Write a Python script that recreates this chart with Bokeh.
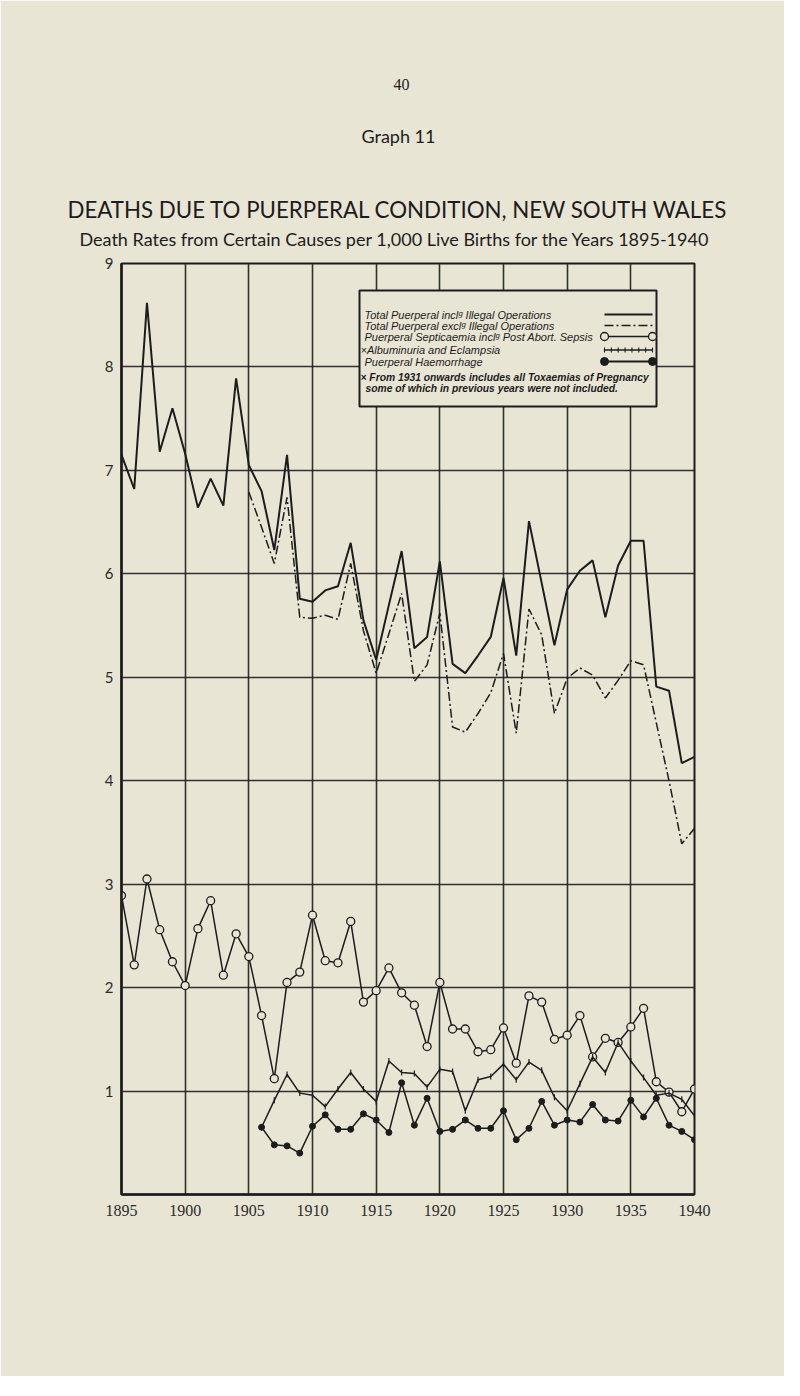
import math
from bokeh.plotting import figure
from bokeh.models import Range1d, Label, FixedTicker, Title
from bokeh.embed import file_html
from bokeh.resources import INLINE

# ---------------- data ----------------
years_total = list(range(1895, 1941))
total_incl = [7.15, 6.82, 8.62, 7.18, 7.60, 7.16, 6.64, 6.92, 6.66, 7.89,
              7.05, 6.80, 6.23, 7.15, 5.76, 5.73, 5.84, 5.88, 6.30, 5.55,
              5.17, 5.70, 6.22, 5.28, 5.39, 6.12, 5.13, 5.04, 5.21, 5.39,
              5.96, 5.21, 6.51, 5.91, 5.31, 5.85, 6.03, 6.13, 5.58, 6.08,
              6.32, 6.32, 4.91, 4.87, 4.17, 4.23]

years_excl = list(range(1905, 1941))
total_excl = [6.79, 6.45, 6.10, 6.74, 5.58, 5.57, 5.60, 5.56, 6.10, 5.45,
              5.04, 5.42, 5.81, 4.96, 5.12, 5.62, 4.52, 4.47, 4.65, 4.85,
              5.23, 4.46, 5.66, 5.41, 4.65, 4.99, 5.09, 5.02, 4.80, 4.97,
              5.16, 5.12, 4.56, 4.00, 3.39, 3.54]

years_sept = list(range(1895, 1941))
septicaemia = [2.89, 2.22, 3.05, 2.56, 2.25, 2.02, 2.57, 2.84, 2.12, 2.52,
               2.30, 1.73, 1.12, 2.05, 2.15, 2.70, 2.26, 2.24, 2.64, 1.86,
               1.97, 2.19, 1.95, 1.83, 1.43, 2.05, 1.60, 1.60, 1.38, 1.40,
               1.61, 1.27, 1.92, 1.86, 1.50, 1.54, 1.73, 1.33, 1.51, 1.47,
               1.62, 1.80, 1.09, 0.99, 0.80, 1.02]

years_alb = list(range(1906, 1941))
albuminuria = [0.65, 0.91, 1.16, 0.98, 0.96, 0.85, 1.02, 1.18, 1.02, 0.90,
               1.29, 1.18, 1.17, 1.04, 1.21, 1.19, 0.81, 1.11, 1.14, 1.26,
               1.11, 1.28, 1.20, 0.94, 0.81, 1.07, 1.33, 1.18, 1.47, 1.29,
               1.13, 0.96, 0.98, 0.92, 0.76]

years_haem = list(range(1906, 1941))
haemorrhage = [0.65, 0.48, 0.47, 0.40, 0.66, 0.77, 0.63, 0.63, 0.78, 0.72,
               0.60, 1.08, 0.67, 0.93, 0.61, 0.63, 0.72, 0.64, 0.64, 0.81,
               0.53, 0.64, 0.90, 0.67, 0.72, 0.70, 0.87, 0.72, 0.71, 0.91,
               0.75, 0.93, 0.67, 0.61, 0.53]

x_ticks = list(range(1895, 1941, 5))
y_ticks = list(range(1, 10))

legend_labels = [
    "Total Puerperal incl\u1d4d Illegal Operations",
    "Total Puerperal excl\u1d4d Illegal Operations",
    "Puerperal Septicaemia incl\u1d4d Post Abort. Sepsis",
    "\u00d7Albuminuria and Eclampsia",
    "Puerperal Haemorrhage",
]
footnote = ["\u00d7 From 1931 onwards includes all Toxaemias of Pregnancy",
            "some of which in previous years were not included."]

# ---------------- layout ----------------
PAPER = "#e9e5d5"
INK = "#1c1c1c"
FL, FR, FT, FB = 129, 702, 271, 1202   # frame edges on the page (px)


def dx(px):
    return 1895 + (px - FL) * 45.0 / (FR - FL)


def dy(py):
    return 9 - (py - FT) * 9.0 / (FB - FT)


W, H = 784, 1376
p = figure(width=W, height=H, output_backend="svg", toolbar_location=None,
           x_range=Range1d(1895, 1940), y_range=Range1d(0, 9),
           min_border_left=FL - 8, min_border_right=W - (FR - 8),
           min_border_top=FT - 8, min_border_bottom=H - (FB - 8))
p.background_fill_color = PAPER
p.border_fill_color = PAPER
p.outline_line_color = INK
p.outline_line_width = 2

for ax in (p.xaxis, p.yaxis):
    ax.axis_line_color = INK
    ax.axis_line_width = 2.5
    ax.major_tick_line_color = None
    ax.minor_tick_line_color = None
    ax.major_label_text_color = "#2a2a2a"
p.xaxis.ticker = FixedTicker(ticks=x_ticks)
p.yaxis.ticker = FixedTicker(ticks=y_ticks)
p.xaxis.major_label_text_font = "Liberation Serif"
p.xaxis.major_label_text_font_size = "16px"
p.xaxis.major_label_standoff = 4
p.yaxis.major_label_text_font = "Lato"
p.yaxis.major_label_text_font_size = "15px"
p.yaxis.major_label_standoff = 2

for g in (p.xgrid, p.ygrid):
    g.grid_line_color = INK
    g.grid_line_width = 1.6
    g.grid_line_alpha = 0.9

# legend box (covers the grid)
p.quad(left=[dx(367)], right=[dx(664)], top=[dy(298)], bottom=[dy(414)],
       fill_color=PAPER, line_color=INK, line_width=2)

# ---------------- series ----------------
p.line(years_total, total_incl, line_color=INK, line_width=2)
p.line(years_excl, total_excl, line_color=INK, line_width=1.5, line_dash="9 3 2 3")
p.line(years_sept, septicaemia, line_color=INK, line_width=1.5)
p.scatter(years_sept, septicaemia, marker="circle", size=8, fill_color=PAPER,
          line_color=INK, line_width=1.3)
p.line(years_alb, albuminuria, line_color=INK, line_width=1.5)
p.scatter(years_alb, albuminuria, marker="dash", angle=math.pi / 2, size=6,
          line_color=INK, line_width=1.2)
p.line(years_haem, haemorrhage, line_color=INK, line_width=1.5)
p.scatter(years_haem, haemorrhage, marker="circle", size=6, fill_color=INK,
          line_color=INK)

# ---------------- legend content ----------------
row_py = [322, 333, 344, 357.5, 369]
for i, txt in enumerate(legend_labels):
    p.add_layout(Label(x=dx(372 if i != 3 else 368), y=dy(row_py[i]), text=txt,
                       text_font="Liberation Sans", text_font_style="italic",
                       text_font_size="11px", text_color=INK,
                       text_baseline="middle", text_align="left"))
for i, txt in enumerate(footnote):
    p.add_layout(Label(x=dx(368 if i == 0 else 373), y=dy([384.5, 395.5][i]), text=txt,
                       text_font="Liberation Sans", text_font_style="bold italic",
                       text_font_size="10.3px", text_color=INK,
                       text_baseline="middle", text_align="left"))

sx0, sx1 = dx(612), dx(660)
p.line([sx0, sx1], [dy(row_py[0])] * 2, line_color=INK, line_width=2)
p.line([sx0, sx1], [dy(row_py[1])] * 2, line_color=INK, line_width=1.5, line_dash="9 3 2 3")
p.line([sx0, sx1], [dy(row_py[2])] * 2, line_color=INK, line_width=1.5)
p.scatter([sx0, sx1], [dy(row_py[2])] * 2, marker="circle", size=8,
          fill_color=PAPER, line_color=INK, line_width=1.3)
p.line([sx0, sx1], [dy(row_py[3])] * 2, line_color=INK, line_width=1.5)
tick_x = [sx0 + k * (sx1 - sx0) / 7 for k in range(8)]
p.scatter(tick_x, [dy(row_py[3])] * 8, marker="dash", angle=math.pi / 2, size=5,
          line_color=INK, line_width=1.1)
p.line([sx0, sx1], [dy(row_py[4])] * 2, line_color=INK, line_width=2)
p.scatter([sx0, sx1], [dy(row_py[4])] * 2, marker="circle", size=8,
          fill_color=INK, line_color=INK)

# ---------------- page titles (stacked outward from the frame) ----------------
# (text, font, size, left offset from frame, spacer below it)
titles = [
    ("Death Rates from Certain Causes per 1,000 Live Births for the Years 1895-1940",
     "Lato", "18px", -42, 11),
    ("DEATHS DUE TO PUERPERAL CONDITION, NEW SOUTH WALES", "Lato", "22.3px", -54, 0),
    ("Graph 11", "Lato", "18px", 240, 44),
    ("40", "Liberation Serif", "16px", 272, 30),
]
for txt, font, size, off, gap in titles:
    p.add_layout(Title(text=" ", text_font_size="1px", standoff=gap), "above")
    p.add_layout(Title(text=txt, text_font=font, text_font_size=size,
                       text_font_style="normal", text_color=INK,
                       align="left", standoff=0, offset=off), "above")

open("out.html", "w").write(file_html(p, INLINE))
